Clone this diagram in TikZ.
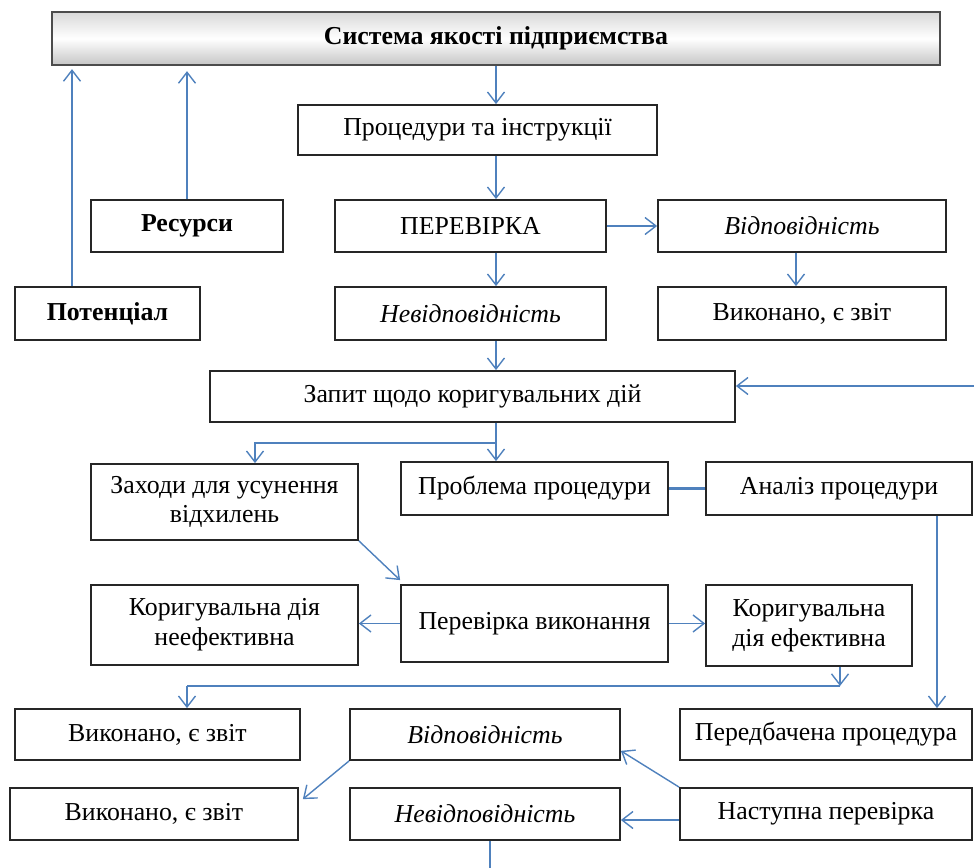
\documentclass[tikz,border=0pt]{standalone}
\usepackage{fontspec}
\setmainfont{Liberation Serif}
\usetikzlibrary{arrows.meta,shadings}

\definecolor{strilkacolor}{HTML}{4F81BD}

\tikzset{
    blok/.style 2 args={rectangle, draw=black!85, line width=1pt, align=center,
        minimum width=#1*0.02cm, minimum height=#2*0.02cm,
        font=\fontsize{14.7}{17}\selectfont},
    strilka/.style={draw=strilkacolor, line width=0.8pt, -{Straight Barb[length=2.2mm,width=3.4mm]}},
    liniia/.style={draw=strilkacolor, line width=0.8pt}
}

\begin{document}
\begin{tikzpicture}[x=0.02cm, y=-0.02cm]
    \useasboundingbox (0,0) rectangle (974,868);

    % verkh
    \node[blok={888}{53}, top color=gray!30, bottom color=gray!45, middle color=white,
        draw=black!70, line width=1.3pt, font=\fontsize{14.7}{17}\selectfont\bfseries] (sys) at (496,38.5) {Система якості підприємства};
    \node[blok={359}{50}] (proc) at (477.5,130) {Процедури та інструкції};
    \node[blok={192}{52}, font=\fontsize{14.7}{17}\selectfont\bfseries] (res) at (187,226) {Ресурси};
    \node[blok={271}{52}] (perev) at (470.5,226) {ПЕРЕВІРКА};
    \node[blok={288}{52}, font=\fontsize{14.7}{17}\selectfont\itshape] (vidp) at (802,226) {Відповідність};
    \node[blok={185}{53}, font=\fontsize{14.7}{17}\selectfont\bfseries] (pot) at (107.5,313.5) {Потенціал};
    \node[blok={271}{53}, font=\fontsize{14.7}{17}\selectfont\itshape] (nevidp) at (470.5,313.5) {Невідповідність};
    \node[blok={288}{53}] (vyk) at (802,313.5) {Виконано, є звіт};
    \node[blok={525}{51}] (zapyt) at (472.5,396.5) {Запит щодо коригувальних дій};

    % seredyna
    \node[blok={267}{76}] (zakhody) at (224.5,502) {Заходи для усунення\\відхилень};
    \node[blok={267}{53}] (problema) at (534.5,488.5) {Проблема процедури};
    \node[blok={266}{53}] (analiz) at (839,488.5) {Аналіз процедури};
    \node[blok={267}{80}] (neef) at (224.5,625) {Коригувальна дія\\неефективна};
    \node[blok={267}{77}] (vykon) at (534.5,623.5) {Перевірка виконання};
    \node[blok={206}{81}] (efek) at (809,625.5) {Коригувальна\\дія ефективна};

    % niz
    \node[blok={285}{51}] (vyk2) at (157.5,734.5) {Виконано, є звіт};
    \node[blok={270}{51}, font=\fontsize{14.7}{17}\selectfont\itshape] (vidp2) at (485,734.5) {Відповідність};
    \node[blok={292}{51}] (peredb) at (826,734.5) {Передбачена процедура};
    \node[blok={288}{52}] (vyk3) at (154,814) {Виконано, є звіт};
    \node[blok={270}{52}, font=\fontsize{14.7}{17}\selectfont\itshape] (nevidp2) at (485,814) {Невідповідність};
    \node[blok={292}{52}] (nast) at (826,814) {Наступна перевірка};

    \coordinate (vis) at (496,0);
    \coordinate (potx) at (72,0);
    \coordinate (rozg) at (496,443);
    \coordinate (zakhx) at (255,443);
    \coordinate (pravo) at (974,386);
    \coordinate (anx) at (937,0);
    \coordinate (efx) at (840,686);
    \coordinate (vykx) at (187,686);
    \coordinate (niz) at (490,868);

    \draw[strilka] (sys.south -| vis) -- (proc.north -| vis);
    \draw[strilka] (proc.south -| vis) -- (perev.north -| vis);
    \draw[strilka] (res.north) -- ([yshift=-0.1cm]res.north |- sys.south);
    \draw[strilka] (pot.north -| potx) -- ([yshift=-0.06cm]sys.south -| potx);
    \draw[strilka] (perev.east) -- (perev.east -| vidp.west);
    \draw[strilka] (perev.south -| vis) -- (nevidp.north -| vis);
    \draw[strilka] (vidp.south -| 796,0) -- (vyk.north -| 796,0);
    \draw[strilka] (nevidp.south -| vis) -- (zapyt.north -| vis);
    \draw[strilka] (pravo) -- (pravo -| zapyt.east);
    \draw[strilka] (zapyt.south -| vis) -- (problema.north -| vis);
    \draw[strilka] (rozg) -- (zakhx) -- (zakhody.north -| zakhx);
    \draw[liniia, line width=1.4pt] (problema.east) -- (analiz.west);
    \draw[strilka] (analiz.south -| anx) -- (peredb.north -| anx);
    \draw[strilka] (zakhody.south east) -- ([yshift=0.08cm]vykon.north west);
    \draw[strilka] (vykon.west) -- (vykon.west -| neef.east);
    \draw[strilka] (vykon.east) -- (vykon.east -| efek.west);
    \draw[strilka] (efek.south -| efx) -- (efx);
    \draw[liniia] (efx) -- (vykx);
    \draw[strilka] (vykx) -- (vyk2.north -| vykx);
    \draw[strilka] (nast.north west) -- ([yshift=0.2cm]vidp2.south east);
    \draw[strilka] ([yshift=-0.12cm]nast.west) -- ([yshift=-0.12cm]nevidp2.east);
    \draw[strilka] (vidp2.south west) -- ([xshift=0.08cm,yshift=-0.24cm]vyk3.north east);
    \draw[liniia] (nevidp2.south -| niz) -- (niz);
\end{tikzpicture}
\end{document}
